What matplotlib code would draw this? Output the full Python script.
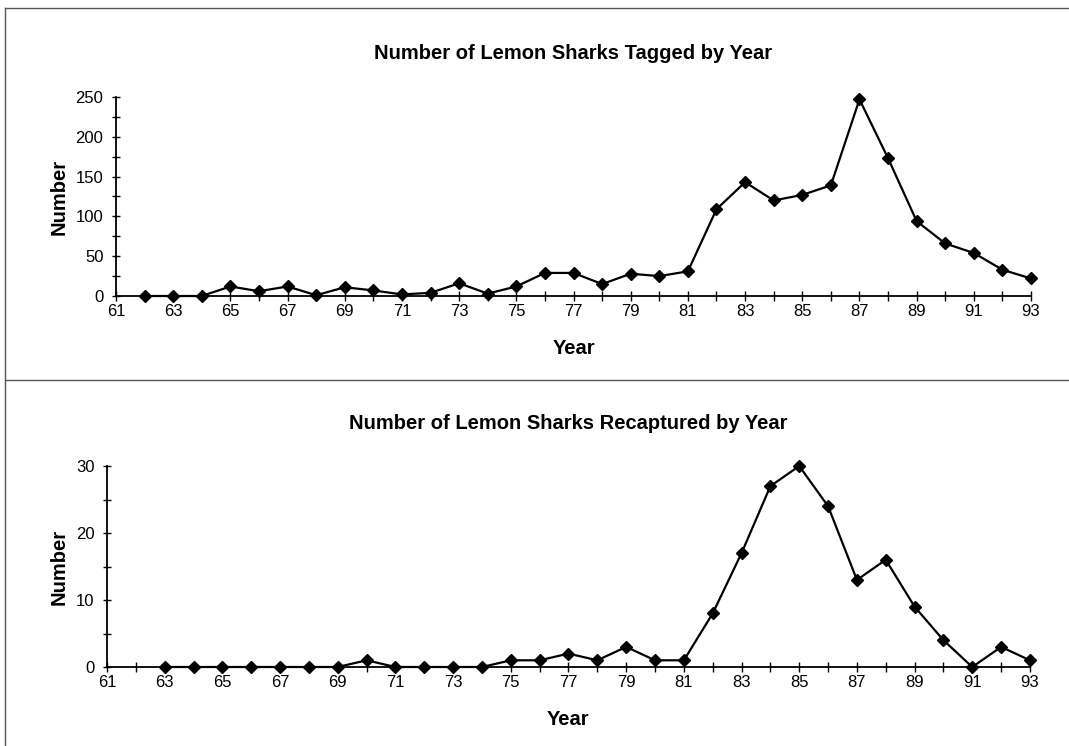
import matplotlib
matplotlib.use('Agg')
import matplotlib.pyplot as plt
import numpy as np
from matplotlib.lines import Line2D

plt.rcParams['font.family'] = ['Liberation Sans', 'DejaVu Sans']

# tagged sharks per year (1962-1993)
tag_years = list(range(62, 94))
tagged = [0, 0, 0, 12, 6, 12, 1, 11, 7, 2, 4, 16, 3, 12, 29, 29,
          15, 28, 25, 31, 109, 143, 120, 127, 139, 247, 173, 94, 66, 54, 33, 22]

# recaptured sharks per year (1963-1993)
recap_years = list(range(63, 94))
recaptured = [0, 0, 0, 0, 0, 0, 0, 1, 0, 0, 0, 0, 1, 1, 2,
              1, 3, 1, 1, 8, 17, 27, 30, 24, 13, 16, 9, 4, 0, 3, 1]

year_ticks = list(range(61, 94))
year_labels = [str(y) if y % 2 == 1 else '' for y in year_ticks]

fig = plt.figure(figsize=(10.69, 7.46), dpi=100)

"""
 one panel helper
"""
def panel(rect, xs, ys, title, ymax, ymajor, yminor, labx):
    ax = fig.add_axes(rect)
    ax.plot(xs, ys, color='black', lw=1.6, marker='D', ms=6, clip_on=False, zorder=3)
    ax.set_xlim(61, 93)
    ax.set_ylim(0, ymax)
    ax.set_xticks(year_ticks)
    ax.set_xticklabels(year_labels)
    ax.set_yticks(np.arange(0, ymax + 1, ymajor))
    ax.set_yticks(np.arange(0, ymax + 1, yminor), minor=True)
    for s in ['top', 'right']:
        ax.spines[s].set_visible(False)
    for s in ['left', 'bottom']:
        ax.spines[s].set_linewidth(1.3)
    ax.tick_params(axis='x', direction='inout', length=7, width=1, labelsize=12, pad=2)
    ax.tick_params(axis='y', which='both', direction='inout', length=6, width=1, labelsize=12, pad=6)
    ax.set_title(title, fontsize=14.5, fontweight='bold', pad=27)
    ax.set_xlabel('Year', fontsize=14.5, fontweight='bold', labelpad=15)
    ax.set_ylabel('Number', fontsize=14.5, fontweight='bold')
    ax.yaxis.set_label_coords(labx, 0.5)
    return ax

ax1 = panel([0.1085, 0.6032, 0.856, 0.2668], tag_years, tagged,
            'Number of Lemon Sharks Tagged by Year', 250, 50, 25, -0.052)
ax2 = panel([0.1001, 0.1059, 0.8634, 0.2694], recap_years, recaptured,
            'Number of Lemon Sharks Recaptured by Year', 30, 10, 5, -0.042)

# frame lines like the original scan
fig.add_artist(Line2D([0.0047, 1.0], [0.989, 0.989], color='#555555', lw=1))
fig.add_artist(Line2D([0.0047, 0.0047], [0.0, 0.989], color='#555555', lw=1))
fig.add_artist(Line2D([0.0047, 1.0], [0.491, 0.491], color='#555555', lw=1))

plt.savefig('out.png', dpi=100)
plt.close()
